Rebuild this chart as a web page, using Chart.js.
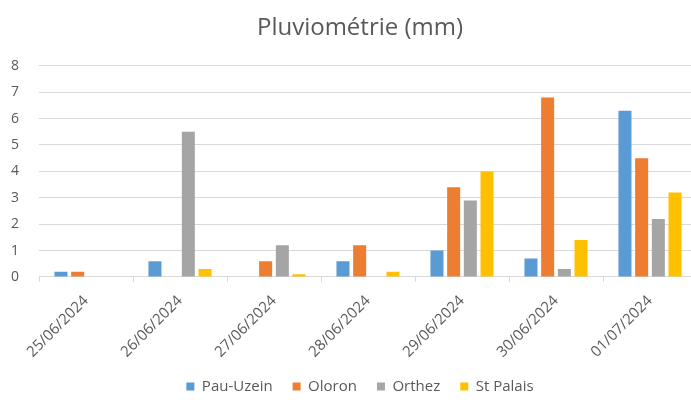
<!DOCTYPE html>
<html>
<head>
<meta charset="utf-8">
<script src="https://cdn.jsdelivr.net/npm/chart.js@4"></script>
<style>
  html, body { margin: 0; padding: 0; background: #fff; overflow: hidden; }
  #wrap { width: 720px; height: 400px; }
</style>
</head>
<body>
<div id="wrap"><canvas id="pluvio" width="720" height="400"></canvas></div>
<script>
/* donnees */
const dates = ['25/06/2024', '26/06/2024', '27/06/2024', '28/06/2024', '29/06/2024', '30/06/2024', '01/07/2024'];
const pauUzein = [0.2, 0.6, 0, 0.6, 1.0, 0.7, 6.3];
const oloron = [0.2, 0, 0.6, 1.2, 3.4, 6.8, 4.5];
const orthez = [0, 5.5, 1.2, 0, 2.9, 0.3, 2.2];
const stPalais = [0, 0.3, 0.1, 0.2, 4.0, 1.4, 3.2];
const yMax = 8;

const gris = '#595959';
const grille = '#d9d9d9';
const police = '"Open Sans", Lato, sans-serif';

/* titre et legende centres sur la fenetre, pas sur la zone du graphique */
const recentrer = {
    id: 'recentrer',
    afterLayout(chart) {
        [chart.titleBlock, chart.legend].forEach(b => {
            b.left += 11.5;
            b.right += 11.5;
        });
    }
};

const ctx = document.getElementById('pluvio').getContext('2d');
const chart = new Chart(ctx, {
    type: 'bar',
    data: {
        labels: dates,
        datasets: [
            { label: 'Pau-Uzein', data: pauUzein, backgroundColor: '#5b9bd5' },
            { label: 'Oloron', data: oloron, backgroundColor: '#ed7d31' },
            { label: 'Orthez', data: orthez, backgroundColor: '#a5a5a5' },
            { label: 'St Palais', data: stPalais, backgroundColor: '#ffc000' }
        ]
    },
    plugins: [recentrer],
    options: {
        responsive: false,
        animation: false,
        datasets: {
            bar: { categoryPercentage: 0.71, barPercentage: 0.78 }
        },
        // le graphique deborde a droite de la fenetre, comme la capture
        layout: { padding: { left: 0, right: 23, top: 0, bottom: -4 } },
        plugins: {
            title: {
                display: true,
                text: 'Pluviométrie (mm)',
                color: gris,
                font: { family: police, size: 24, weight: 'normal' },
                padding: { top: 14, bottom: 23 }
            },
            legend: {
                position: 'bottom',
                labels: {
                    color: gris,
                    font: { family: police, size: 15 },
                    boxWidth: 8,
                    boxHeight: 8,
                    padding: 20
                }
            },
            tooltip: { enabled: false }
        },
        scales: {
            x: {
                afterFit: (scale) => { scale.height -= 12; },
                grid: {
                    drawOnChartArea: false,
                    drawTicks: true,
                    tickLength: 5,
                    color: grille
                },
                border: { color: grille },
                ticks: {
                    color: gris,
                    font: { family: police, size: 15 },
                    minRotation: 45,
                    maxRotation: 45,
                    padding: 10
                }
            },
            y: {
                min: 0,
                max: yMax,
                afterFit: (scale) => { scale.width = 39; },
                grid: { color: grille, drawTicks: false },
                border: { display: false },
                ticks: {
                    stepSize: 1,
                    color: gris,
                    font: { family: police, size: 14 },
                    padding: 20
                }
            }
        }
    }
});
</script>
</body>
</html>
